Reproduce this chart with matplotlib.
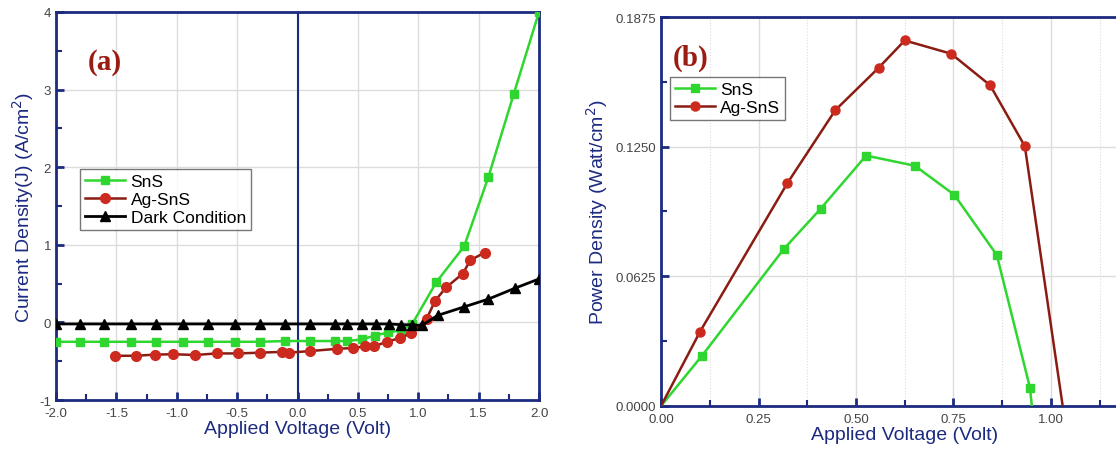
import numpy as np
import matplotlib.pyplot as plt
from matplotlib.ticker import MultipleLocator, FixedLocator, FormatStrFormatter

plt.rcParams['font.family'] = ['Liberation Sans', 'DejaVu Sans']
plt.rcParams['axes.unicode_minus'] = False

# (a) J-V curves
v_sns = [-2.0, -1.8, -1.6, -1.38, -1.17, -0.95, -0.74, -0.52, -0.31, -0.1, 0.1, 0.31,
         0.41, 0.53, 0.64, 0.75, 0.86, 0.95, 1.15, 1.38, 1.58, 1.79, 2.0]
j_sns = [-0.25, -0.25, -0.25, -0.25, -0.25, -0.25, -0.25, -0.25, -0.25, -0.24, -0.24, -0.24,
         -0.24, -0.22, -0.17, -0.13, -0.10, -0.02, 0.52, 0.98, 1.87, 2.94, 4.0]

v_ag = [-1.51, -1.34, -1.18, -1.03, -0.85, -0.67, -0.49, -0.31, -0.13, -0.07, 0.10, 0.33,
        0.46, 0.56, 0.63, 0.74, 0.85, 0.94, 1.07, 1.14, 1.23, 1.37, 1.43, 1.55]
j_ag = [-0.43, -0.43, -0.415, -0.41, -0.42, -0.40, -0.40, -0.39, -0.38, -0.39, -0.37, -0.34,
        -0.33, -0.31, -0.31, -0.25, -0.20, -0.14, 0.05, 0.28, 0.45, 0.63, 0.80, 0.90]

v_dark = [-2.0, -1.8, -1.6, -1.38, -1.17, -0.95, -0.74, -0.52, -0.31, -0.1, 0.1, 0.31, 0.41,
          0.53, 0.65, 0.76, 0.86, 0.95, 1.03, 1.16, 1.38, 1.58, 1.80, 2.0]
j_dark = [-0.02, -0.02, -0.02, -0.02, -0.02, -0.02, -0.02, -0.02, -0.02, -0.02, -0.02, -0.02,
          -0.02, -0.02, -0.02, -0.02, -0.03, -0.03, -0.04, 0.09, 0.20, 0.30, 0.44, 0.56]

# (b) P-V curves
v_p_sns = [0.0, 0.105, 0.315, 0.409, 0.526, 0.651, 0.752, 0.861, 0.946, 0.951]
p_sns = [0.0, 0.0242, 0.0757, 0.0950, 0.1207, 0.1158, 0.1018, 0.0728, 0.0089, 0.0]
v_p_ag = [0.0, 0.100, 0.324, 0.447, 0.558, 0.625, 0.744, 0.844, 0.933, 1.030]
p_ag = [0.0, 0.0358, 0.1074, 0.1426, 0.1630, 0.1762, 0.1698, 0.1546, 0.1252, 0.0]

navy = '#1c2a80'
green = '#2fd62f'
red = '#cc2a1e'
darkred = '#8a1c14'
grid_c = '#dcdcdc'

fig = plt.figure(figsize=(11.16, 4.56), dpi=100)
ax1 = fig.add_axes([0.0502, 0.1206, 0.4328, 0.851])
ax2 = fig.add_axes([0.5923, 0.1075, 0.4368, 0.853])


def style_axes(ax):
    for s in ax.spines.values():
        s.set_color(navy)
        s.set_linewidth(2)
    ax.tick_params(which='both', direction='in', color=navy, labelcolor='#444444',
                   labelsize=9.5, top=False, right=False)
    ax.tick_params(which='major', length=6, width=2)
    ax.tick_params(which='minor', length=4, width=1.5)
    ax.tick_params(axis='x', which='major', pad=5)
    ax.set_axisbelow(True)


# panel (a)
style_axes(ax1)
ax1.set_xlim(-2.0, 2.0)
ax1.set_ylim(-1, 4)
ax1.xaxis.set_major_locator(MultipleLocator(0.5))
ax1.xaxis.set_minor_locator(MultipleLocator(0.25))
ax1.yaxis.set_major_locator(MultipleLocator(1))
ax1.yaxis.set_minor_locator(MultipleLocator(0.5))
ax1.xaxis.set_major_formatter(FormatStrFormatter('%.1f'))
ax1.grid(True, which='major', color=grid_c, lw=1)
ax1.axvline(0, color=navy, lw=1.5, zorder=1)

ax1.plot(v_sns, j_sns, color=green, lw=1.8, marker='s', ms=6, label='SnS', zorder=3)
ax1.plot(v_ag, j_ag, color=darkred, lw=1.8, marker='o', ms=7, mfc=red, mec=red,
         label='Ag-SnS', zorder=4)
ax1.plot(v_dark, j_dark, color='black', lw=2, marker='^', ms=7, label='Dark Condition', zorder=5)

ax1.set_xlabel('Applied Voltage (Volt)', color=navy, fontsize=14, labelpad=1)
ax1.set_ylabel('Current Density(J) (A/cm$^2$)', color=navy, fontsize=14, labelpad=2)
ax1.text(0.066, 0.853, '(a)', transform=ax1.transAxes, fontsize=21, fontweight='bold',
         family='Liberation Serif', color='#9a1c12')
leg1 = ax1.legend(loc='upper left', bbox_to_anchor=(0.05, 0.595), fontsize=12.5, frameon=True,
                  fancybox=False, edgecolor='#555555', handlelength=2.3, borderpad=0.3,
                  labelspacing=0.15, handletextpad=0.3, borderaxespad=0)
leg1.get_frame().set_linewidth(1)

# panel (b)
style_axes(ax2)
ax2.set_xlim(0, 1.25)
ax2.set_ylim(0, 0.1875)
ax2.xaxis.set_major_locator(FixedLocator([0.0, 0.25, 0.5, 0.75, 1.0]))
ax2.xaxis.set_minor_locator(FixedLocator([0.125, 0.375, 0.625, 0.875, 1.125]))
ax2.yaxis.set_major_locator(MultipleLocator(0.0625))
ax2.yaxis.set_minor_locator(MultipleLocator(0.03125))
ax2.xaxis.set_major_formatter(FormatStrFormatter('%.2f'))
ax2.yaxis.set_major_formatter(FormatStrFormatter('%.4f'))
ax2.grid(True, which='major', color=grid_c, lw=1)
ax2.grid(True, which='minor', axis='x', color=grid_c, lw=0.8, ls=':')

ax2.plot(v_p_sns, p_sns, color=green, lw=1.8, marker='s', ms=6, markevery=slice(1, -1),
         label='SnS', zorder=3)
ax2.plot(v_p_ag, p_ag, color=darkred, lw=1.8, marker='o', ms=6.5, mfc=red, mec=red,
         markevery=slice(1, -1), label='Ag-SnS', zorder=4)

ax2.set_xlabel('Applied Voltage (Volt)', color=navy, fontsize=14, labelpad=1)
ax2.set_ylabel('Power Density (Watt/cm$^2$)', color=navy, fontsize=14, labelpad=4)
ax2.text(0.025, 0.877, '(b)', transform=ax2.transAxes, fontsize=21, fontweight='bold',
         family='Liberation Serif', color='#9a1c12')
leg2 = ax2.legend(loc='upper left', bbox_to_anchor=(0.018, 0.846), fontsize=12.5, frameon=True,
                  fancybox=False, edgecolor='#555555', handlelength=2.3, borderpad=0.3,
                  labelspacing=0.15, handletextpad=0.3, borderaxespad=0)
leg2.get_frame().set_linewidth(1)

plt.savefig('out.png', dpi=100)
